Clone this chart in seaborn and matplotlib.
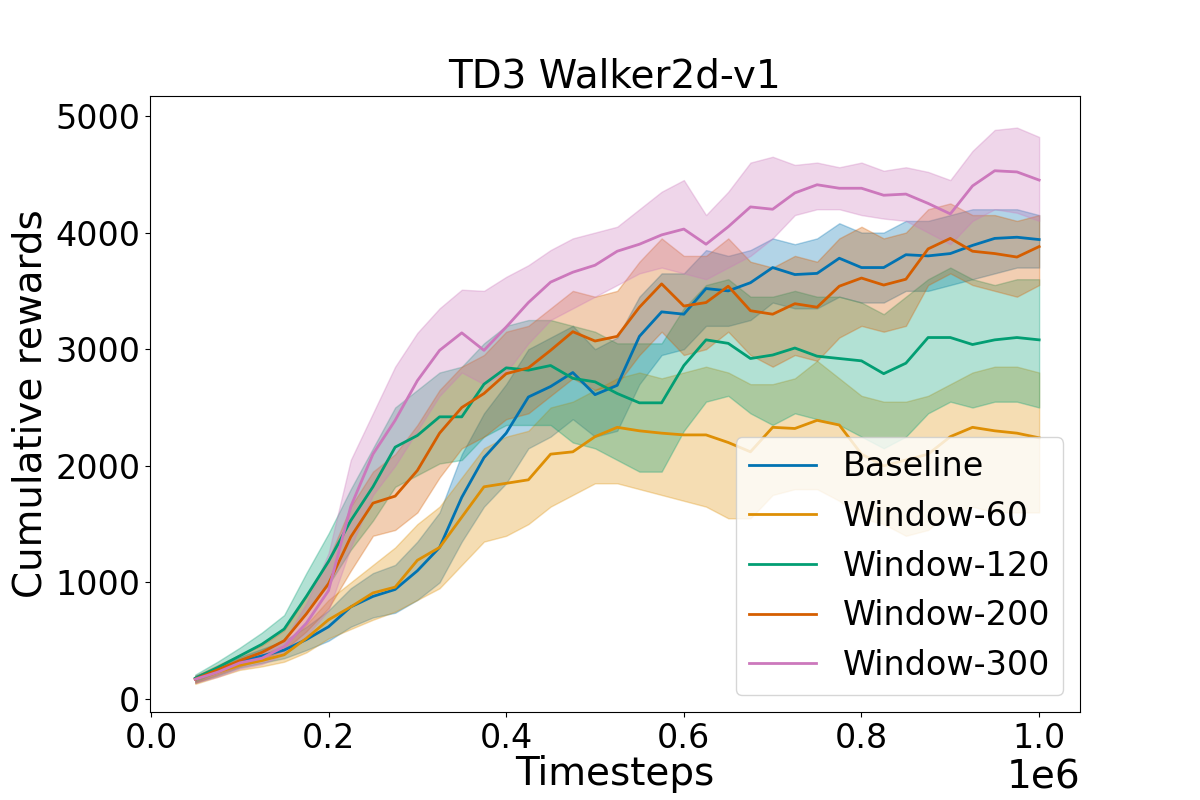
import numpy as np
import pandas as pd
import seaborn as sns
import matplotlib.pyplot as plt

# timesteps (x 1e6)
steps = [0.05, 0.075, 0.1, 0.125, 0.15, 0.175, 0.2, 0.225, 0.25, 0.275,
         0.3, 0.325, 0.35, 0.375, 0.4, 0.425, 0.45, 0.475, 0.5, 0.525,
         0.55, 0.575, 0.6, 0.625, 0.65, 0.675, 0.7, 0.725, 0.75, 0.775,
         0.8, 0.825, 0.85, 0.875, 0.9, 0.925, 0.95, 0.975, 1.0]

labels = ['Baseline', 'Window-60', 'Window-120', 'Window-200', 'Window-300']

# Baseline
base_mean = [170, 240, 320, 370, 420, 510, 620, 790, 880, 940,
             1100, 1300, 1730, 2070, 2280, 2590, 2680, 2800, 2610, 2690,
             3110, 3320, 3300, 3520, 3500, 3570, 3700, 3640, 3650, 3780,
             3700, 3700, 3810, 3800, 3820, 3890, 3950, 3960, 3940]
base_low = [140, 200, 270, 310, 350, 420, 500, 620, 700, 740,
            850, 1000, 1350, 1650, 1850, 2150, 2250, 2400, 2250, 2300,
            2700, 2950, 3000, 3200, 3200, 3250, 3400, 3350, 3350, 3450,
            3400, 3400, 3500, 3500, 3550, 3600, 3650, 3700, 3700]
base_high = [200, 270, 360, 430, 500, 620, 760, 950, 1080, 1150,
             1350, 1600, 2100, 2450, 2700, 3000, 3100, 3200, 3000, 3100,
             3450, 3650, 3650, 3850, 3800, 3850, 3950, 3900, 3950, 4080,
             4000, 4000, 4100, 4100, 4150, 4200, 4200, 4200, 4150]

# Window-60
w60_mean = [170, 230, 290, 330, 380, 520, 680, 790, 910, 960,
            1190, 1300, 1560, 1820, 1850, 1880, 2100, 2120, 2250, 2330,
            2300, 2280, 2265, 2265, 2200, 2120, 2330, 2320, 2390, 2350,
            2100, 2000, 2050, 2100, 2250, 2330, 2300, 2280, 2240]
w60_low = [130, 190, 250, 280, 320, 400, 520, 600, 680, 750,
           850, 950, 1150, 1350, 1400, 1500, 1650, 1750, 1850, 1850,
           1800, 1750, 1700, 1650, 1550, 1550, 1750, 1800, 1800, 1700,
           1550, 1500, 1400, 1450, 1600, 1650, 1600, 1600, 1600]
w60_high = [190, 260, 330, 380, 460, 640, 850, 1000, 1150, 1300,
            1500, 1650, 1900, 2150, 2250, 2300, 2500, 2550, 2650, 2750,
            2800, 2750, 2800, 2850, 2800, 2700, 2700, 2750, 2900, 2750,
            2600, 2550, 2550, 2600, 2700, 2800, 2850, 2850, 2800]

# Window-120
w120_mean = [180, 270, 370, 470, 600, 880, 1180, 1530, 1820, 2160,
             2260, 2420, 2420, 2700, 2840, 2820, 2860, 2750, 2720, 2620,
             2540, 2540, 2860, 3080, 3050, 2920, 2950, 3010, 2940, 2920,
             2900, 2790, 2880, 3100, 3100, 3040, 3080, 3100, 3080]
w120_low = [150, 230, 320, 410, 510, 740, 980, 1280, 1530, 1820,
            1920, 2020, 2050, 2250, 2350, 2350, 2350, 2200, 2150, 2050,
            1950, 1950, 2300, 2550, 2600, 2450, 2350, 2450, 2400, 2350,
            2250, 2150, 2250, 2450, 2550, 2500, 2550, 2550, 2500]
w120_high = [210, 320, 440, 570, 720, 1080, 1420, 1800, 2150, 2500,
             2650, 2800, 2850, 3050, 3200, 3250, 3250, 3200, 3150, 3050,
             3050, 3050, 3350, 3550, 3600, 3450, 3450, 3500, 3450, 3450,
             3400, 3300, 3450, 3600, 3700, 3600, 3550, 3600, 3600]

# Window-200
w200_mean = [170, 250, 330, 400, 500, 730, 990, 1390, 1680, 1740,
             1960, 2280, 2500, 2620, 2790, 2840, 2990, 3150, 3070, 3110,
             3360, 3560, 3370, 3400, 3540, 3330, 3300, 3390, 3360, 3540,
             3610, 3550, 3600, 3860, 3950, 3840, 3820, 3790, 3880]
w200_low = [140, 210, 280, 340, 420, 580, 780, 1100, 1400, 1450,
            1600, 1900, 2150, 2250, 2400, 2450, 2600, 2750, 2650, 2700,
            2950, 3150, 2950, 3000, 3150, 2950, 2850, 2950, 2900, 3100,
            3200, 3150, 3200, 3550, 3650, 3550, 3500, 3450, 3550]
w200_high = [200, 290, 380, 460, 590, 880, 1200, 1650, 1950, 2100,
             2350, 2650, 2850, 2950, 3150, 3200, 3350, 3500, 3450, 3500,
             3750, 3950, 3800, 3800, 3950, 3750, 3700, 3800, 3750, 3950,
             4050, 3950, 4000, 4200, 4250, 4150, 4150, 4100, 4150]

# Window-300
w300_mean = [170, 230, 310, 350, 450, 650, 930, 1650, 2100, 2390,
             2730, 2990, 3140, 2990, 3190, 3400, 3575, 3660, 3720, 3840,
             3900, 3980, 4030, 3900, 4050, 4220, 4200, 4340, 4410, 4380,
             4380, 4320, 4330, 4250, 4160, 4400, 4530, 4520, 4450]
w300_low = [140, 190, 260, 300, 380, 540, 760, 1300, 1750, 2000,
            2300, 2600, 2800, 2700, 2800, 3050, 3250, 3350, 3450, 3550,
            3650, 3700, 3650, 3600, 3700, 3800, 3950, 4150, 4200, 4200,
            4150, 4120, 4100, 4000, 3900, 4100, 4200, 4170, 4100]
w300_high = [200, 250, 330, 390, 500, 820, 1250, 2050, 2450, 2850,
             3140, 3350, 3510, 3500, 3620, 3720, 3850, 3950, 4000, 4050,
             4200, 4350, 4450, 4150, 4350, 4600, 4650, 4580, 4600, 4560,
             4600, 4530, 4560, 4520, 4450, 4700, 4880, 4900, 4820]

means = [base_mean, w60_mean, w120_mean, w200_mean, w300_mean]
lows = [base_low, w60_low, w120_low, w200_low, w300_low]
highs = [base_high, w60_high, w120_high, w200_high, w300_high]

x = np.array(steps) * 1e6
df = pd.concat([pd.DataFrame({'Timesteps': x, 'reward': m, 'label': lab})
                for m, lab in zip(means, labels)], ignore_index=True)

colors = sns.color_palette('colorblind', 5)

fig, ax = plt.subplots(figsize=(12, 8), dpi=100)
sns.lineplot(data=df, x='Timesteps', y='reward', hue='label', hue_order=labels,
             palette=colors, linewidth=2, ax=ax)
for lo, hi, c in zip(lows, highs, colors):
    ax.fill_between(x, lo, hi, color=c, alpha=0.3)

ax.set_xlim(-1000, 1.046e6)
ax.set_ylim(-111, 5171)
ax.set_yticks([0, 1000, 2000, 3000, 4000, 5000])
ax.tick_params(labelsize=24)
ax.xaxis.get_offset_text().set_fontsize(28)
ax.set_title('TD3 Walker2d-v1', fontsize=28)
ax.set_xlabel('Timesteps', fontsize=28, labelpad=0)
ax.set_ylabel('Cumulative rewards', fontsize=28)
ax.legend(loc='lower right', fontsize=24)

plt.savefig('out.png', dpi=100)
